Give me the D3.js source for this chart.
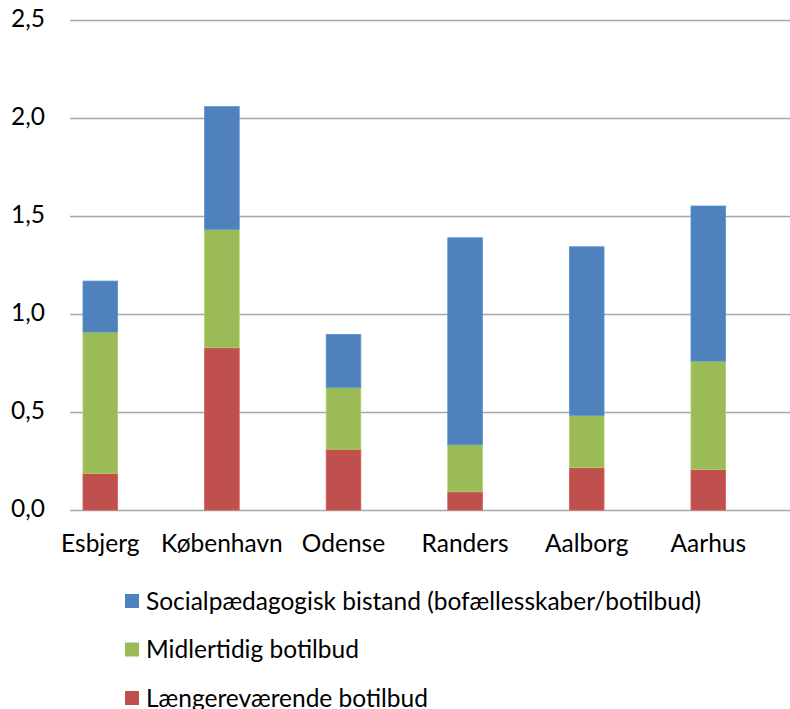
<!DOCTYPE html>
<html><head><meta charset="utf-8">
<script src="https://cdn.jsdelivr.net/npm/d3@7"></script>
<style>body{margin:0;background:#fff}svg{display:block}text{font-family:Lato,"Open Sans",sans-serif;fill:#000}</style>
</head><body><svg id="c" width="790" height="709"></svg>
<script>
const categories = ["Esbjerg","København","Odense","Randers","Aalborg","Aarhus"];
const seriesNames = ["Længereværende botilbud","Midlertidig botilbud","Socialpædagogisk bistand (bofællesskaber/botilbud)"];
const laengere = [0.187,0.828,0.310,0.093,0.216,0.206];
const midlertidig = [0.721,0.604,0.316,0.240,0.267,0.554];
const social = [0.260,0.626,0.270,1.056,0.860,0.791];
const colors = ["#c0504d","#9bbb59","#4f81bd"];
const yTicks = [0,0.5,1,1.5,2,2.5];

const FS = 24.5;
const svg = d3.select("#c");
const y = d3.scaleLinear().domain([0,2.5]).range([510,20]);
const x = d3.scaleBand().domain(categories).range([39.5,769.1]).paddingInner(0.715).paddingOuter(0.3575);
const fmt = v => d3.format(".1f")(v).replace(".",",");

// gridlines + y labels
const yAxis = d3.axisLeft(y).tickValues(yTicks).tickSize(-720).tickFormat(fmt).tickPadding(25);
const gy = svg.append("g").attr("transform","translate(70,0)").call(yAxis);
gy.select(".domain").remove();
gy.selectAll(".tick line").attr("stroke","#a6a6a6").attr("stroke-width",1.5);
gy.selectAll(".tick text").attr("font-size",FS).attr("dy",null).attr("y",6.5).style("font-family","Lato");

const rows = categories.map((c,i)=>({cat:c,l:laengere[i],m:midlertidig[i],s:social[i]}));
const stack = d3.stack().keys(["l","m","s"])(rows);
svg.append("g").selectAll("g").data(stack).join("g")
  .attr("fill",(d,i)=>colors[i])
  .attr("stroke",(d,i)=>d3.color(colors[i]).brighter(0.35))
  .attr("stroke-width",0.8)
  .selectAll("rect").data(d=>d).join("rect")
  .attr("x",d=>x(d.data.cat)).attr("width",x.bandwidth())
  .attr("y",d=>y(d[1])).attr("height",d=>y(d[0])-y(d[1]));

const xAxis = d3.axisBottom(x).tickSize(0).tickPadding(0);
const gx = svg.append("g").attr("transform","translate(0,510)").call(xAxis);
gx.select(".domain").remove();
gx.selectAll(".tick text").attr("font-size",FS).attr("dy",null).attr("y",42).style("font-family","Lato");

const legendOrder = [2,1,0];
const lg = svg.append("g").selectAll("g").data(legendOrder).join("g")
  .attr("transform",(d,i)=>`translate(125,${601+i*48.5})`);
lg.append("rect").attr("x",0).attr("y",-7).attr("width",14).attr("height",14).attr("fill",d=>colors[d]);
lg.append("text").attr("x",21).attr("y",8.5).attr("font-size",FS).text(d=>seriesNames[d]);
</script></body></html>
